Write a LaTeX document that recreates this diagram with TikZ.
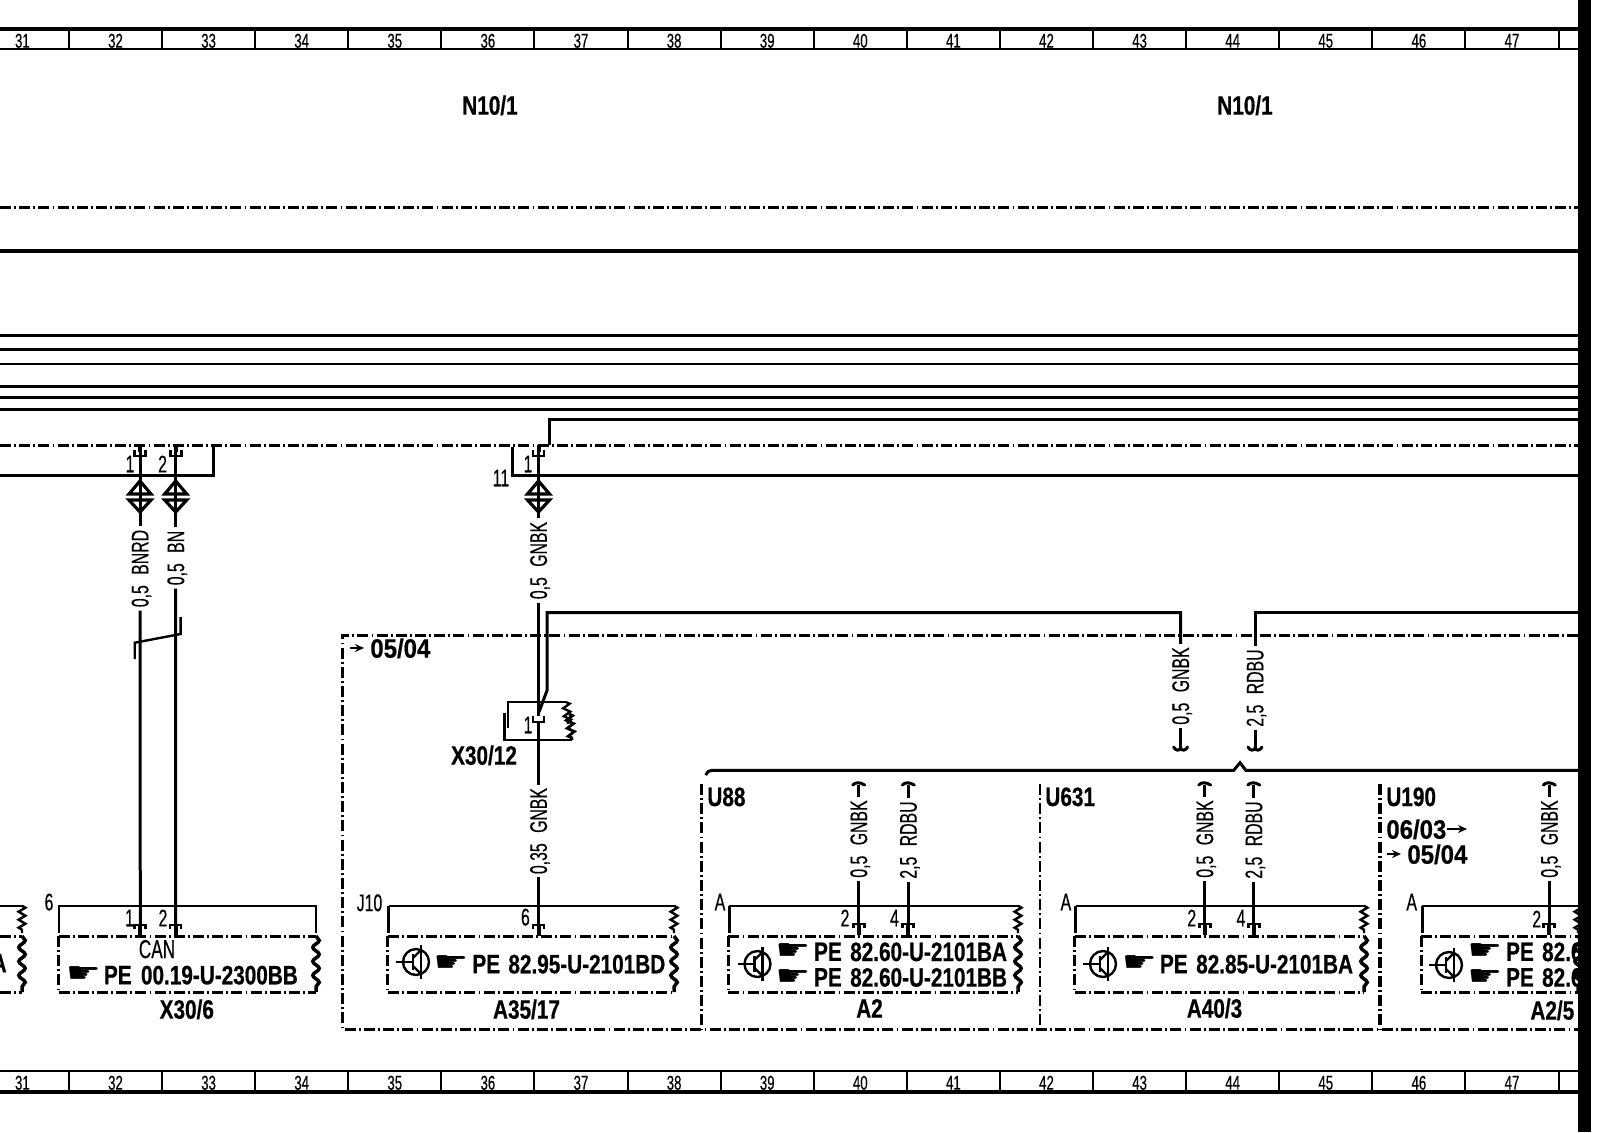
\documentclass[tikz,border=0pt]{standalone}
\usepackage{fontspec}
\setmainfont{Liberation Sans}
\newfontfamily\namefont[FakeStretch=0.78,BoldFeatures={FakeBold=0.6}]{Liberation Sans}
\newfontfamily\datefont[FakeStretch=0.9,BoldFeatures={FakeBold=0.6}]{Liberation Sans}
\newfontfamily\thinfont[FakeStretch=0.66,FakeBold=0.4]{Liberation Sans}
\newfontfamily\handfont[FakeStretch=1.4]{DejaVu Sans}
\usetikzlibrary{arrows.meta,decorations.pathmorphing}

\tikzset{
    every node/.style={inner sep=0pt,text depth=0pt},
    wire/.style={line width=1.5pt},
    heavywire/.style={line width=1.75pt},
    thinwire/.style={line width=1pt},
    dashdotted line/.style={line width=1.5pt,dash pattern=on 5.5pt off 1.6pt on 0.9pt off 1.6pt},
    wavy/.style={line width=1.75pt,decorate,decoration={snake,segment length=7pt,amplitude=1.6pt}},
    zigzag line/.style={line width=1.2pt,decorate,decoration={zigzag,segment length=4pt,amplitude=1.7pt}},
    wirelabel/.style={rotate=90,inner xsep=1.5pt,font=\thinfont\fontsize{12}{12}\selectfont},
    thinlabel/.style={font=\thinfont\fontsize{12}{12}\selectfont},
    collabel/.style={font=\thinfont\fontsize{10}{10}\selectfont},
    namelabel/.style={font=\namefont\bfseries\fontsize{13.3}{13.3}\selectfont},
    datelabel/.style={font=\datefont\bfseries\fontsize{13.3}{13.3}\selectfont},
    handlabel/.style={font=\handfont\fontsize{14}{14}\selectfont},
    datearrow/.style={line width=1.2pt,-{Stealth[length=4.5pt,width=4pt]},shorten >=3pt},
    cuppin/.pic={
        \draw[line width=1.4pt] (-5.5,-6) -- (-5.5,0) -- (5.5,0) -- (5.5,-6);
    },
    toppin/.pic={
        \draw[line width=1.4pt] (-5.5,4) -- (-5.5,0) -- (5.5,0) -- (5.5,4);
        \draw[line width=2pt] (0,0) -- (0,11);
    },
    plugs/.pic={
        \draw[line width=1.6pt] (0,-16) -- (-11,-3) -- (11,-3) -- cycle;
        \draw[line width=1.6pt] (0,15) -- (-11,3) -- (11,3) -- cycle;
    },
    hookup/.pic={
        \draw[wire,line cap=round] (-6,0) .. controls (-3,-3) and (1,-3) .. (6,0);
    },
    hookdown/.pic={
        \draw[wire,line cap=round] (-7,-1) .. controls (-5,3) and (-1,3) .. (0,0) .. controls (1,3) and (5,3) .. (7,-1);
    },
    tsym/.pic={
        \draw[line width=1.2pt] (0,0) circle[radius=6.5pt];
        \draw[line width=1.2pt] (-20,0) -- (-3,0);
        \draw[line width=1.2pt] (5,-17) -- (5,17);
        \draw[line width=1.2pt] (-3,-8) -- (-3,8);
        \draw[line width=1.2pt] (-3,-4) -- (5,-12) (-3,4) -- (5,12);
    }
}

% box with its connector frame above, x from left to right
\newcommand{\modbox}[2]{
    \draw[wire] (#1+1,933) -- (#1+1,905.7);
    \draw[thinwire] (#1+1,905.7) -- (#2,905.7);
    \draw[zigzag line] (#2,905.7) -- (#2,933);
    \draw[dashdotted line] (#1,936) -- (#2,936) (#1,992) -- (#2,992) (#1,936) -- (#1,992);
    \draw[wavy] (#2,936) -- (#2,992);
}

\begin{document}
\begin{tikzpicture}[x=0.5pt,y=-0.5pt]
    \path[use as bounding box,fill=white] (0,0) rectangle (1600,1132);

    % column bands
    \draw[line width=2pt] (0,29) -- (1578,29);
    \draw[thinwire] (0,49) -- (1578,49);
    \draw[thinwire] (0,1071) -- (1578,1071);
    \draw[line width=2pt] (0,1091.5) -- (1578,1091.5);
    \foreach \i in {0,...,16} {
        \draw[thinwire] ({68.9+93.1*\i},29) -- ++(0,20);
        \draw[thinwire] ({68.9+93.1*\i},1071) -- ++(0,20);
    }
    \foreach \col [count=\i from 0] in {31,...,47} {
        \node[collabel] (top\col) at ({22.4+93.1*\i},40.7) {\col};
        \node[collabel] (bot\col) at ({22.4+93.1*\i},1082.7) {\col};
    }

    \node[namelabel] (nleft) at (490,105) {N10/1};
    \node[namelabel] (nright) at (1245,105) {N10/1};

    % long lines
    \draw[dashdotted line] (0,207.7) -- (1578,207.7);
    \draw[line width=2pt] (0,250.7) -- (1578,250.7);
    \foreach \ypos in {335.3,349.3,386.3,397.3,409.3} {
        \draw[wire] (0,\ypos) -- (1578,\ypos);
    }
    \draw[thinwire] (0,363.7) -- (1578,363.7);
    \draw[wire] (1578,419.3) -- (549,419.3) -- (549,445);
    \draw[dashdotted line] (0,445.3) -- (1578,445.3);
    \draw[wire] (0,475.3) -- (213.5,475.3) -- (213.5,447);
    \draw[wire] (1578,475.3) -- (512,475.3) -- (512,447);

    % wires down from the top
    \coordinate (wa) at (140,445);
    \coordinate (wb) at (175.7,445);
    \coordinate (wc) at (538.5,445);
    \node[wirelabel] (lbnrd) at (140,568.5) {0,5\hspace{3pt} BNRD};
    \node[wirelabel] (lbn) at (175.7,558) {0,5\hspace{3pt} BN};
    \node[wirelabel] (lgnbk) at (538.5,560.5) {0,5\hspace{3pt} GNBK};
    \draw[wire] (wa) -- (lbnrd.east);
    \draw[wire] (wb) -- (lbn.east);
    \draw[heavywire] (wc) -- (lgnbk.east);
    \foreach \xpos in {140,175.7,538.5} {
        \draw[line width=2pt] (\xpos,445) -- (\xpos,452);
        \pic at (\xpos,456) {cuppin};
        \pic at (\xpos,497) {plugs};
    }
    \node[thinlabel] (pa) at (130,464) {1};
    \node[thinlabel] (pb) at (162.6,464) {2};
    \node[thinlabel] (pc) at (528,464) {1};
    \node[thinlabel] (pin11) at (501,478) {11};

    % twist
    \draw[thinwire,line width=1.2pt] (180.6,617) -- (180.6,634) -- (134.7,642.7) -- (134.7,659);

    % X30/6
    \coordinate (xa) at (140.3,925);
    \coordinate (xb) at (175.5,925);
    \draw[wire] (lbnrd.west) -- (xa);
    \draw[wire] (lbn.west) -- (xb);
    \draw[thinwire] (59,933) -- (59,905.7) -- (316,905.7) -- (316,933);
    \draw[dashdotted line] (58.5,936) -- (316,936) (58.5,992) -- (316,992) (58.5,936) -- (58.5,992);
    \draw[wavy] (316,936) -- (316,992);
    \pic at (xa) {toppin};
    \pic at (xb) {toppin};
    \node[thinlabel] (x6) at (49,902) {6};
    \node[thinlabel] (xpa) at (129.5,918) {1};
    \node[thinlabel] (xpb) at (163,918) {2};
    \node[thinlabel,font=\thinfont\fontsize{13}{13}\selectfont] (xcan) at (157,949) {CAN};
    \node[handlabel] (xhand) at (83.5,975) {☛};
    \node[namelabel,anchor=west] (xpe) at (103.6,975) {PE};
    \node[namelabel,anchor=west] (xno) at (140.6,975) {00.19-U-2300BB};
    \node[namelabel] (x30) at (186.8,1009) {X30/6};

    % cut off box on the left
    \draw[thinwire] (0,905.7) -- (22,905.7);
    \draw[zigzag line] (22,905.7) -- (22,933);
    \draw[dashdotted line] (0,936) -- (22,936) (0,992) -- (22,992);
    \draw[wavy] (22,936) -- (22,992);
    \node[namelabel,anchor=east] (cutA) at (7,963) {A};

    % frame
    \draw[dashdotted line] (1578,635) -- (342.5,635) -- (342.5,1029.3) -- (1578,1029.3);
    \draw[dashdotted line] (701.6,784) -- (701.6,1029.3);
    \draw[dashdotted line,line width=1pt] (1039.5,784) -- (1039.5,1029.3);
    \draw[dashdotted line,line width=2pt] (1380,784) -- (1380,1029.3);
    \coordinate (da) at (350,648);
    \node[datelabel,anchor=west] (dfrom) at (370,648) {05/04};
    \draw[datearrow] (da) -- (dfrom.west);

    % X30/12
    \draw[thinwire] (566,702) -- (507.8,702) -- (507.8,728);
    \draw[thinwire,line width=1.2pt] (504.4,713) -- (504.4,740) -- (572,740);
    \draw[zigzag line] (566,702) -- (568,724);
    \draw[zigzag line,line width=1.4pt] (569,714) -- (572,740);
    \node[namelabel] (x3012) at (484,755) {X30/12};
    \node[thinlabel] (xm) at (528,725) {1};
    \node[wirelabel] (lgnbkb) at (538.5,831) {0,35\hspace{3pt} GNBK};
    \coordinate (am) at (538.5,925);
    \draw[heavywire] (lgnbk.west) -- (538.5,716);
    \draw[heavywire] (538.5,722) -- (lgnbkb.east);
    \draw[heavywire] (lgnbkb.west) -- (am);
    \pic at (538.5,722) {cuppin};

    % branch from the frame
    \node[wirelabel] (bgn) at (1180.6,686) {0,5\hspace{3pt} GNBK};
    \node[wirelabel] (brd) at (1255,688) {2,5\hspace{3pt} RDBU};
    \coordinate (bgnend) at (1180.6,748);
    \coordinate (brdend) at (1255,748);
    \draw[wire] (539,712) -- (547.2,690) -- (547.2,612.7) -- (1180.6,612.7) -- (bgn.east);
    \draw[wire] (bgn.west) -- (bgnend);
    \draw[wire] (1578,612.7) -- (1255,612.7) -- (brd.east);
    \draw[wire] (brd.west) -- (brdend);
    \pic at (bgnend) {hookdown};
    \pic at (brdend) {hookdown};
    \draw[wire] (705.6,775) .. controls (707,772) and (709,770.3) .. (712,770.3) -- (1233.7,770.3) -- (1240,762.7) -- (1245.8,770.3) -- (1578,770.3);

    % A35/17
    \modbox{387.5}{674}
    \pic at (am) {toppin};
    \pic at (416,962) {tsym};
    \node[thinlabel] (aj) at (369.5,902.7) {J10};
    \node[thinlabel] (a6) at (525.4,917) {6};
    \node[handlabel] (ahand) at (451,964) {☛};
    \node[namelabel,anchor=west] (ape) at (472,964) {PE};
    \node[namelabel,anchor=west] (ano) at (508,964) {82.95-U-2101BD};
    \node[namelabel] (a35) at (526.5,1009) {A35/17};

    % A2
    \modbox{728.4}{1018}
    \pic at (757.5,964) {tsym};
    \node[namelabel,anchor=west] (u88) at (707,796.7) {U88};
    \node[thinlabel] (ba) at (720,902) {A};
    \node[thinlabel] (b2) at (845,918) {2};
    \node[thinlabel] (b4) at (894.5,918) {4};
    \node[wirelabel] (bw) at (858.7,839) {0,5\hspace{3pt} GNBK};
    \node[wirelabel] (bx) at (908.3,840) {2,5\hspace{3pt} RDBU};
    \coordinate (bwpin) at (858.7,924);
    \coordinate (bxpin) at (908.3,924);
    \coordinate (bwend) at (858.7,785);
    \coordinate (bxend) at (908.3,785);
    \draw[wire] (bwend) -- (bw.east) (bw.west) -- (bwpin);
    \draw[wire] (bxend) -- (bx.east) (bx.west) -- (bxpin);
    \pic at (bwpin) {toppin};
    \pic at (bxpin) {toppin};
    \pic at (bwend) {hookup};
    \pic at (bxend) {hookup};
    \node[handlabel] (bh1) at (793,951.7) {☛};
    \node[handlabel] (bh2) at (793,977.3) {☛};
    \node[namelabel,anchor=west] (bp1) at (813.7,951.7) {PE};
    \node[namelabel,anchor=west] (bp2) at (813.7,977.3) {PE};
    \node[namelabel,anchor=west] (bn1) at (849.8,951.7) {82.60-U-2101BA};
    \node[namelabel,anchor=west] (bn2) at (849.8,977.3) {82.60-U-2101BB};
    \node[namelabel] (a2) at (869.5,1008.3) {A2};

    % A40/3
    \modbox{1074.8}{1364}
    \pic at (1103,964) {tsym};
    \node[namelabel,anchor=west] (u631) at (1045,796.7) {U631};
    \node[thinlabel] (ca) at (1065.9,902) {A};
    \node[thinlabel] (c2) at (1191.8,918) {2};
    \node[thinlabel] (c4) at (1241,918) {4};
    \node[wirelabel] (cw) at (1204.7,839) {0,5\hspace{3pt} GNBK};
    \node[wirelabel] (cx) at (1253.8,840) {2,5\hspace{3pt} RDBU};
    \coordinate (cwpin) at (1204.7,924);
    \coordinate (cxpin) at (1253.8,924);
    \coordinate (cwend) at (1204.7,785);
    \coordinate (cxend) at (1253.8,785);
    \draw[wire] (cwend) -- (cw.east) (cw.west) -- (cwpin);
    \draw[wire] (cxend) -- (cx.east) (cx.west) -- (cxpin);
    \pic at (cwpin) {toppin};
    \pic at (cxpin) {toppin};
    \pic at (cwend) {hookup};
    \pic at (cxend) {hookup};
    \node[handlabel] (ch) at (1139.5,964) {☛};
    \node[namelabel,anchor=west] (cp) at (1159.6,964) {PE};
    \node[namelabel,anchor=west] (cn) at (1195.8,964) {82.85-U-2101BA};
    \node[namelabel] (a40) at (1214.5,1008) {A40/3};

    % A2/5, runs under the black edge
    \modbox{1421}{1578}
    \pic at (1449,965) {tsym};
    \node[namelabel,anchor=west] (u190) at (1386,796.7) {U190};
    \node[datelabel,anchor=west] (dto) at (1386,829) {06/03};
    \coordinate (dtoend) at (1467,829);
    \draw[datearrow,shorten >=0pt] (dto.east) -- (dtoend);
    \coordinate (db) at (1387,854);
    \node[datelabel,anchor=west] (dfromb) at (1407,854) {05/04};
    \draw[datearrow] (db) -- (dfromb.west);
    \node[thinlabel] (da) at (1411.7,902) {A};
    \node[thinlabel] (d2) at (1536.7,919) {2};
    \node[wirelabel] (dw) at (1549.3,839) {0,5\hspace{3pt} GNBK};
    \coordinate (dwpin) at (1549.3,924);
    \coordinate (dwend) at (1549.3,785);
    \draw[wire] (dwend) -- (dw.east) (dw.west) -- (dwpin);
    \pic at (dwpin) {toppin};
    \pic at (dwend) {hookup};
    \node[handlabel] (dh1) at (1485,951.7) {☛};
    \node[handlabel] (dh2) at (1485,977.3) {☛};
    \node[namelabel,anchor=west] (dp1) at (1505.7,951.7) {PE};
    \node[namelabel,anchor=west] (dp2) at (1505.7,977.3) {PE};
    \node[namelabel,anchor=west] (dn1) at (1541.7,951.7) {82.6};
    \node[namelabel,anchor=west] (dn2) at (1541.7,977.3) {82.6};
    \node[namelabel,anchor=west] (a25) at (1530,1010) {A2/5};

    % black edge
    \fill (1578,0) rectangle (1591,1132);
\end{tikzpicture}
\end{document}
